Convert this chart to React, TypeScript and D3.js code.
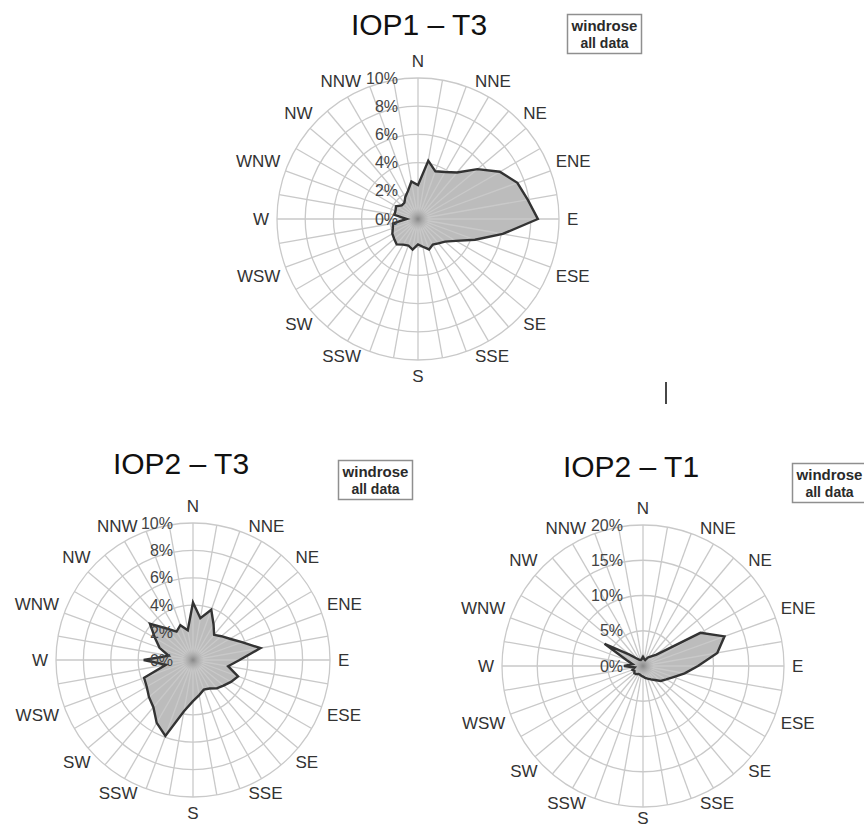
import React, { useRef, useEffect } from 'react';
import * as d3 from 'd3';

// wind directions of the 36 sectors (degrees from north)
const bearings = [0, 10, 20, 30, 40, 50, 60, 70, 80, 90, 100, 110, 120, 130, 140, 150, 160, 170,
  180, 190, 200, 210, 220, 230, 240, 250, 260, 270, 280, 290, 300, 310, 320, 330, 340, 350];

const compass = ['N', 'NNE', 'NE', 'ENE', 'E', 'ESE', 'SE', 'SSE', 'S', 'SSW', 'SW', 'WSW', 'W', 'WNW', 'NW', 'NNW'];

// frequency (%) per sector
const iop1T3 = [2.4, 4.2, 3.6, 3.85, 4.3, 5.5, 6.7, 7.5, 7.9, 8.5, 6.1, 4.3, 3.1, 2.5, 2.25, 2.1, 2.3, 2.0,
  1.8, 2.2, 2.0, 2.1, 2.35, 2.2, 2.1, 1.9, 1.8, 0.8, 1.7, 1.7, 1.8, 1.5, 1.5, 1.8, 2.1, 2.7];
const iop2T3 = [4.2, 3.1, 3.9, 3.0, 2.4, 2.7, 3.1, 3.8, 5.0, 3.4, 2.6, 3.5, 3.2, 2.9, 2.7, 2.4, 2.3, 2.6,
  3.0, 3.8, 5.9, 5.3, 4.5, 4.2, 3.9, 3.8, 2.0, 3.6, 1.8, 2.6, 3.2, 4.1, 3.0, 2.4, 2.7, 2.2];
const iop2T1 = [1.3, 1.0, 0.9, 1.4, 1.8, 2.5, 9.4, 12.3, 10.7, 7.8, 6.0, 4.6, 3.8, 3.3, 2.6, 2.2, 1.9, 1.7,
  1.5, 1.4, 1.3, 1.3, 1.5, 1.6, 1.4, 1.6, 1.2, 2.7, 1.5, 2.5, 6.3, 2.5, 1.4, 1.0, 0.9, 1.0];

const ticks10 = [0, 2, 4, 6, 8, 10];
const ticks20 = [0, 5, 10, 15, 20];

const legendLines = ['windrose', 'all data'];

interface RoseSpec {
  title: string;
  values: number[];
  ticks: number[];
  cx: number; cy: number; radius: number;
  titleX: number; titleY: number;
  legendX: number; legendY: number;
}

const roses: RoseSpec[] = [
  { title: 'IOP1 – T3', values: iop1T3, ticks: ticks10, cx: 418, cy: 219, radius: 141, titleX: 419, titleY: 35, legendX: 567, legendY: 14 },
  { title: 'IOP2 – T3', values: iop2T3, ticks: ticks10, cx: 193, cy: 660, radius: 137, titleX: 181, titleY: 474, legendX: 338, legendY: 460 },
  { title: 'IOP2 – T1', values: iop2T1, ticks: ticks20, cx: 643, cy: 666, radius: 141, titleX: 631, titleY: 477, legendX: 792, legendY: 463 },
];

const GRID = '#c9c9c9';
const FILL = '#bcbcbc';
const FONT = '"Liberation Sans", Arial, sans-serif';
const PAGE_H = 829;

function drawRose(svg: d3.Selection<SVGSVGElement, unknown, null, undefined>, s: RoseSpec) {
  const g = svg.append('g').attr('transform', `translate(${s.cx},${s.cy})`);
  const rMax = s.ticks[s.ticks.length - 1];
  const r = d3.scaleLinear().domain([0, rMax]).range([0, s.radius]);
  const a = d3.scaleLinear().domain([0, 360]).range([0, 2 * Math.PI]);
  const dirAngle = d3.scaleLinear().domain([0, compass.length]).range([0, 360]);

  // rings
  g.selectAll('circle.ring')
    .data(s.ticks.filter(t => t > 0))
    .join('circle')
    .attr('r', d => r(d))
    .attr('fill', 'none')
    .attr('stroke', GRID)
    .attr('stroke-width', 1.3);

  const line = d3.lineRadial<number>()
    .angle((_, i) => a(bearings[i]))
    .radius(d => r(d))
    .curve(d3.curveLinearClosed);

  g.append('path').attr('d', line(s.values) as string).attr('fill', FILL);

  // spokes on top of the fill
  g.selectAll('line.spoke')
    .data(bearings)
    .join('line')
    .attr('x1', 0).attr('y1', 0)
    .attr('x2', d => s.radius * Math.sin(a(d)))
    .attr('y2', d => -s.radius * Math.cos(a(d)))
    .attr('stroke', GRID)
    .attr('stroke-width', 1.3);

  g.append('circle').attr('r', 11).attr('fill', 'url(#hub)');

  g.append('path')
    .attr('d', line(s.values) as string)
    .attr('fill', 'none')
    .attr('stroke', '#333')
    .attr('stroke-width', 2.4)
    .attr('stroke-linejoin', 'miter');

  // compass labels
  compass.forEach((name, i) => {
    const ang = a(dirAngle(i));
    const sx = Math.sin(ang), sy = -Math.cos(ang);
    const t = g.append('text')
      .text(name)
      .attr('font-family', FONT)
      .attr('font-size', 17)
      .attr('fill', '#333');
    if (Math.abs(sx) < 0.01) {
      // keep the bottom label inside the page
      const southY = Math.min(s.radius + 22, PAGE_H - 5 - s.cy);
      t.attr('text-anchor', 'middle').attr('x', 0)
        .attr('y', sy < 0 ? -(s.radius + 11) : southY);
    } else {
      const rr = s.radius + 8;
      t.attr('text-anchor', sx > 0 ? 'start' : 'end')
        .attr('x', rr * sx)
        .attr('y', rr * sy)
        .attr('dominant-baseline', 'central');
    }
  });

  // percent labels
  g.selectAll('text.tick')
    .data(s.ticks)
    .join('text')
    .attr('x', -20)
    .attr('y', d => -r(d))
    .attr('text-anchor', 'end')
    .attr('dominant-baseline', 'central')
    .attr('font-family', FONT)
    .attr('font-size', 16)
    .attr('fill', '#444')
    .text(d => `${d}%`);

  // title
  svg.append('text')
    .attr('x', s.titleX).attr('y', s.titleY)
    .attr('text-anchor', 'middle')
    .attr('font-family', FONT)
    .attr('font-size', 30)
    .attr('fill', '#111')
    .text(s.title);

  // legend box
  const lg = svg.append('g').attr('transform', `translate(${s.legendX},${s.legendY})`);
  lg.append('rect')
    .attr('x', 0.5).attr('y', 0.5).attr('width', 74).attr('height', 39)
    .attr('fill', '#fff').attr('stroke', '#8f8f8f').attr('stroke-width', 1.5);
  legendLines.forEach((txt, i) => {
    lg.append('text')
      .attr('x', 37.5).attr('y', i === 0 ? 17 : 34)
      .attr('text-anchor', 'middle')
      .attr('font-family', FONT)
      .attr('font-weight', 'bold')
      .attr('font-size', i === 0 ? 15 : 14)
      .attr('fill', '#2a2a2a')
      .text(txt);
  });
}

const App: React.FC = () => {
  const svgRef = useRef<SVGSVGElement>(null);

  useEffect(() => {
    const svg = d3.select(svgRef.current as SVGSVGElement);
    svg.selectAll('*').remove();
    const grad = svg.append('defs').append('radialGradient').attr('id', 'hub');
    grad.append('stop').attr('offset', '0%').attr('stop-color', '#858585').attr('stop-opacity', 0.95);
    grad.append('stop').attr('offset', '100%').attr('stop-color', '#a0a0a0').attr('stop-opacity', 0);

    roses.forEach(s => drawRose(svg, s));

    // stray vertical mark between the panels
    svg.append('line')
      .attr('x1', 666).attr('x2', 666).attr('y1', 382).attr('y2', 404)
      .attr('stroke', '#333').attr('stroke-width', 1.8);
  }, []);

  return (
    <svg ref={svgRef} width={864} height={PAGE_H}
      style={{ position: 'absolute', left: 0, top: 0, background: '#fff' }} />
  );
};

export default App;
